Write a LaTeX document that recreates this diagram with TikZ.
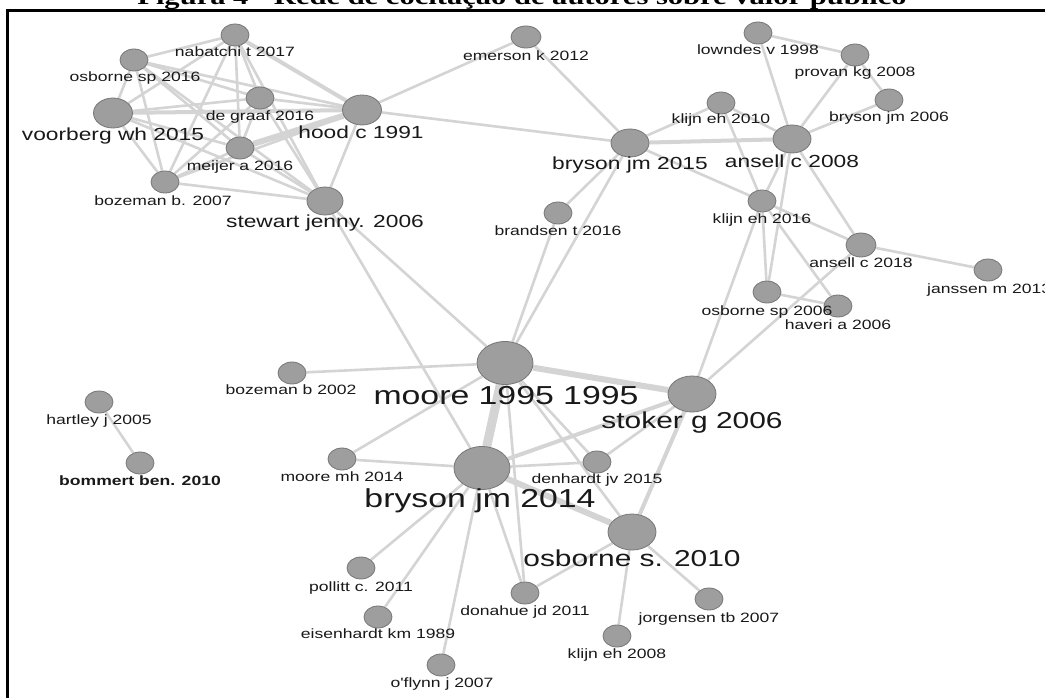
\documentclass[tikz,border=0pt]{standalone}
\usepackage{fontspec}
\usepackage{graphicx}
\newfontfamily\lsans{Liberation Sans}
\newfontfamily\lserif{Liberation Serif}
\usetikzlibrary{shapes.geometric}
\pgfdeclarelayer{bg}
\pgfdeclarelayer{edges}
\pgfsetlayers{bg,edges,main}
\definecolor{edgec}{RGB}{212,212,212}
\definecolor{nodefill}{RGB}{158,158,158}
\definecolor{nodeline}{RGB}{118,118,118}
\definecolor{txt}{RGB}{25,25,25}
\newcommand{\stx}[1]{\scalebox{1.3}[1]{#1}}
\begin{document}
\begin{tikzpicture}[x=1pt,y=-1pt,
  nd/.style={ellipse, draw=nodeline, fill=nodefill, line width=0.8pt,
             minimum width=28pt, minimum height=22pt, inner sep=0pt},
  ndm/.style={nd, minimum width=39pt, minimum height=30pt},
  ndk/.style={nd, minimum width=48pt, minimum height=36pt},
  ndl/.style={nd, minimum width=56pt, minimum height=43pt},
  lbs/.style={anchor=base, inner sep=0pt, text=txt, font=\lsans\fontsize{13.5}{15}\selectfont},
  lbb/.style={lbs, font=\lsans\bfseries\fontsize{13.5}{15}\selectfont},
  lbm/.style={anchor=base, inner sep=0pt, text=txt, font=\lsans\fontsize{17.5}{19}\selectfont},
  lbk/.style={anchor=base, inner sep=0pt, text=txt, font=\lsans\fontsize{23}{25}\selectfont},
  lbl/.style={anchor=base, inner sep=0pt, text=txt, font=\lsans\fontsize{26}{28}\selectfont},
  ed/.style={draw=edgec, line width=2.6pt},
  edw/.style={draw=edgec, line width=4pt},
  edww/.style={draw=edgec, line width=6pt},
  edwww/.style={draw=edgec, line width=9pt},
  frame/.style={draw=black, line width=3pt}
]
\useasboundingbox (0,0) rectangle (1045,698);
\begin{pgfonlayer}{bg}
\fill[white] (0,0) rectangle (1045,698);
\end{pgfonlayer}

% title (cut by the page top)
\node[anchor=base, inner sep=0pt, font=\lserif\bfseries\fontsize{23.5}{25}\selectfont] (title) at (522,5)
  {\stx{Figura 4 - Rede de cocitação de autores sobre valor público}};

% frame
\coordinate (fbl) at (7,700);
\coordinate (ftl) at (7,11);
\coordinate (ftr) at (1047,11);
\draw[frame] (fbl) -- (ftl) -- (ftr);

% nodes
\node[nd]  (N)    at (235,35)  {};
\node[nd]  (O16)  at (134,60)  {};
\node[nd]  (D)    at (260,98)  {};
\node[ndm] (V)    at (113,113) {};
\node[ndm] (H)    at (362,110) {};
\node[nd]  (M)    at (240,148) {};
\node[nd]  (B07)  at (165,182) {};
\node[nd, minimum width=36pt, minimum height=28pt] (S) at (325,201) {};
\node[nd, minimum width=30pt]  (EM)   at (526,37)  {};
\node[nd]  (LO)   at (758,33)  {};
\node[nd]  (PR)   at (855,55)  {};
\node[nd]  (BJ06) at (889,100) {};
\node[nd]  (K10)  at (721,103) {};
\node[nd, minimum width=38pt, minimum height=28pt] (B15) at (630,143) {};
\node[nd, minimum width=38pt, minimum height=28pt] (A08) at (792,139) {};
\node[nd]  (K16)  at (762,201) {};
\node[nd]  (BR)   at (558,213) {};
\node[nd, minimum width=30pt, minimum height=24pt] (A18) at (861,245) {};
\node[nd]  (JA)   at (988,270) {};
\node[nd]  (OSP06) at (767,292) {};
\node[nd]  (HA)   at (838,306) {};
\node[nd]  (BZ02) at (292,373) {};
\node[nd]  (HJ)   at (99,402)  {};
\node[nd]  (BB)   at (140,463) {};
\node[ndl] (MO)   at (505,363) {};
\node[nd]  (MMH)  at (342,459) {};
\node[ndl] (B14)  at (482,468) {};
\node[nd]  (DE)   at (597,462) {};
\node[ndk] (ST)   at (692,394) {};
\node[ndk] (OS10) at (632,532) {};
\node[nd]  (PO)   at (361,568) {};
\node[nd]  (EI)   at (378,617) {};
\node[nd]  (OF)   at (441,665) {};
\node[nd]  (DO)   at (525,593) {};
\node[nd]  (KE08) at (617,636) {};
\node[nd]  (JO)   at (709,599) {};

% edges
\begin{pgfonlayer}{edges}
% top-left cluster
\draw[ed] (O16) -- (N);   \draw[ed] (O16) -- (D);   \draw[ed] (O16) -- (H);
\draw[ed] (O16) -- (V);   \draw[ed] (O16) -- (B07); \draw[ed] (O16) -- (M);
\draw[ed] (O16) -- (S);
\draw[ed] (N) -- (V);     \draw[ed] (N) -- (D);     \draw[ed] (N) -- (M);
\draw[edw] (N) -- (H);    \draw[ed] (N) -- (S);     \draw[ed] (N) -- (B07);
\draw[ed] (V) -- (D);     \draw[edw] (V) -- (H);    \draw[ed] (V) -- (M);
\draw[ed] (V) -- (B07);   \draw[ed] (V) -- (S);
\draw[ed] (D) -- (H);     \draw[ed] (D) -- (M);     \draw[ed] (D) -- (B07);
\draw[ed] (D) -- (S);
\draw[edww] (M) -- (H);   \draw[ed] (M) -- (S);     \draw[ed] (M) -- (B07);
\draw[ed] (B07) -- (S);   \draw[ed] (B07) -- (H);
\draw[ed] (H) -- (S);     \draw[ed] (H) -- (EM);    \draw[ed] (H) -- (B15);
\draw[ed] (S) -- (MO);    \draw[ed] (S) -- (B14);
% top-right cluster
\draw[ed] (EM) -- (B15);  \draw[ed] (B15) -- (K10); \draw[edw] (B15) -- (A08);
\draw[ed] (B15) -- (K16); \draw[ed] (B15) -- (BR);  \draw[ed] (B15) -- (MO);
\draw[ed] (BR) -- (MO);
\draw[ed] (K10) -- (A08); \draw[ed] (K10) -- (K16);
\draw[ed] (LO) -- (A08);  \draw[ed] (LO) -- (PR);   \draw[ed] (PR) -- (A08);
\draw[ed] (PR) -- (BJ06); \draw[ed] (BJ06) -- (A08);
\draw[ed] (A08) -- (K16); \draw[ed] (A08) -- (A18); \draw[ed] (A08) -- (OSP06);
\draw[ed] (K16) -- (OSP06); \draw[ed] (K16) -- (HA); \draw[ed] (K16) -- (A18);
\draw[ed] (A18) -- (JA);  \draw[ed] (OSP06) -- (HA);
\draw[ed] (ST) -- (K16);  \draw[ed] (ST) -- (A18);
% central hub
\draw[ed] (MO) -- (BZ02); \draw[edww] (MO) -- (ST); \draw[edwww] (MO) -- (B14);
\draw[ed] (MO) -- (MMH);  \draw[ed] (MO) -- (DE);   \draw[ed] (MO) -- (OS10);
\draw[ed] (MO) -- (DO);
\draw[ed] (B14) -- (MMH); \draw[edw] (B14) -- (ST); \draw[ed] (B14) -- (DE);
\draw[edww] (B14) -- (OS10); \draw[ed] (B14) -- (PO); \draw[ed] (B14) -- (EI);
\draw[ed] (B14) -- (OF);  \draw[ed] (B14) -- (DO);
\draw[ed] (DE) -- (ST);
\draw[ed] (OS10) -- (DO); \draw[ed] (OS10) -- (KE08); \draw[ed] (OS10) -- (JO);
\draw[edw] (OS10) -- (ST);
\draw[ed] (HJ) -- (BB);
\end{pgfonlayer}

% labels
\node[lbs] (N-l)    at (235,57)  {\stx{nabatchi t 2017}};
\node[lbs] (O16-l)  at (135,82)  {\stx{osborne sp 2016}};
\node[lbs] (D-l)    at (260,121) {\stx{de graaf 2016}};
\node[lbm] (V-l)    at (113,141) {\stx{voorberg wh 2015}};
\node[lbm] (H-l)    at (361,139) {\stx{hood c 1991}};
\node[lbs] (M-l)    at (240,171) {\stx{meijer a 2016}};
\node[lbs] (B07-l)  at (163,205) {\stx{bozeman b. 2007}};
\node[lbm] (S-l)    at (325,228) {\stx{stewart jenny. 2006}};
\node[lbs] (EM-l)   at (526,61)  {\stx{emerson k 2012}};
\node[lbs] (LO-l)   at (758,55)  {\stx{lowndes v 1998}};
\node[lbs] (PR-l)   at (855,77)  {\stx{provan kg 2008}};
\node[lbs] (BJ06-l) at (889,122) {\stx{bryson jm 2006}};
\node[lbs] (K10-l)  at (721,124) {\stx{klijn eh 2010}};
\node[lbm] (B15-l)  at (630,170) {\stx{bryson jm 2015}};
\node[lbm] (A08-l)  at (792,168) {\stx{ansell c 2008}};
\node[lbs] (K16-l)  at (762,223) {\stx{klijn eh 2016}};
\node[lbs] (BR-l)   at (558,235) {\stx{brandsen t 2016}};
\node[lbs] (A18-l)  at (861,267) {\stx{ansell c 2018}};
\node[lbs, anchor=base west] (JA-l) at (927,293) {\stx{janssen m 2013}};
\node[lbs] (OSP06-l) at (767,315) {\stx{osborne sp 2006}};
\node[lbs] (HA-l)   at (838,329) {\stx{haveri a 2006}};
\node[lbs] (BZ02-l) at (291,394) {\stx{bozeman b 2002}};
\node[lbs] (HJ-l)   at (99,424)  {\stx{hartley j 2005}};
\node[lbb] (BB-l)   at (140,485) {\stx{bommert ben. 2010}};
\node[lbl] (MO-l)   at (506,404) {\stx{moore 1995 1995}};
\node[lbs] (MMH-l)  at (342,481) {\stx{moore mh 2014}};
\node[lbl] (B14-l)  at (480,507) {\stx{bryson jm 2014}};
\node[lbs] (DE-l)   at (597,483) {\stx{denhardt jv 2015}};
\node[lbk] (ST-l)   at (692,428) {\stx{stoker g 2006}};
\node[lbk] (OS10-l) at (632,566) {\stx{osborne s. 2010}};
\node[lbs] (PO-l)   at (361,591) {\stx{pollitt c. 2011}};
\node[lbs] (EI-l)   at (378,638) {\stx{eisenhardt km 1989}};
\node[lbs] (DO-l)   at (525,615) {\stx{donahue jd 2011}};
\node[lbs] (JO-l)   at (709,622) {\stx{jorgensen tb 2007}};
\node[lbs] (KE08-l) at (617,658) {\stx{klijn eh 2008}};
\node[lbs] (OF-l)   at (442,687) {\stx{o'flynn j 2007}};
\end{tikzpicture}
\end{document}
